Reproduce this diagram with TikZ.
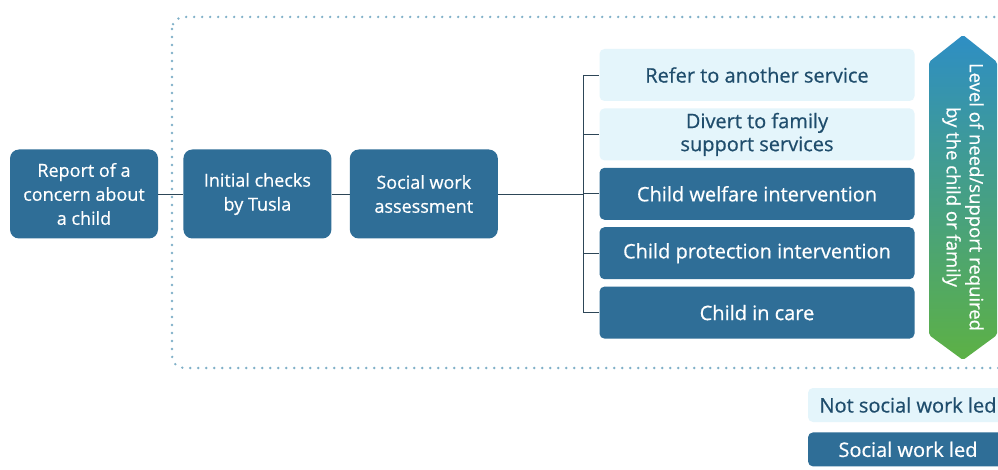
\documentclass[tikz,border=0pt]{standalone}
\usepackage{fontspec}
\setmainfont{Open Sans}[FakeBold=0.6]
\usetikzlibrary{positioning}
\definecolor{tuslaDark}{HTML}{2F6E97}
\definecolor{tuslaPale}{HTML}{E4F5FB}
\definecolor{tuslaText}{HTML}{1F4D6C}
\definecolor{dotBlue}{HTML}{7FB0C8}
\definecolor{needBlue}{HTML}{2E8EC4}
\definecolor{needGreen}{HTML}{5DB145}
\definecolor{linkGrey}{HTML}{2D4657}
\tikzset{
  stage/.style={fill=tuslaDark, text=white, rounded corners=9pt,
    minimum width=148pt, minimum height=89pt, align=center,
    font=\fontsize{18}{24}\selectfont},
  outcome/.style={rounded corners=5pt, minimum width=315pt,
    minimum height=52pt, align=center, font=\fontsize{20}{23}\selectfont},
  paleBox/.style={fill=tuslaPale, text=tuslaText},
  darkBox/.style={fill=tuslaDark, text=white},
  keyBox/.style={rounded corners=5pt, minimum width=200pt,
    minimum height=34pt, font=\fontsize{20}{22}\selectfont},
  link/.style={draw=linkGrey, line width=0.8pt},
}
\begin{document}
\begin{tikzpicture}[x=1pt, y=-1pt]
\clip (0,0) rectangle (998,470);
\fill[white] (0,0) rectangle (998,470);

% dotted frame round the social work part
\draw[dotBlue, line width=2.6pt, line cap=round, dash pattern=on 0pt off 8pt,
  rounded corners=12pt] (172,17) rectangle (1030,368);

\node[stage] (report) at (84,194) {Report of a\\concern about\\a child};
\node[stage, right=25pt of report] (checks) {Initial checks\\by Tusla};
\node[stage, right=18pt of checks] (assess) {Social work\\assessment};

\node[outcome, paleBox] (refer) at (757,75) {Refer to another service};
\node[outcome, paleBox, below=7pt of refer] (divert) {Divert to family\\support services};
\node[outcome, darkBox, below=7pt of divert] (welfare) {Child welfare intervention};
\node[outcome, darkBox, below=7pt of welfare] (protect) {Child protection intervention};
\node[outcome, darkBox, below=7pt of protect] (care) {Child in care};

\draw[link] (report) -- (checks);
\draw[link] (checks) -- (assess);
\coordinate (fork) at (583,194);
\draw[link] (assess) -- (fork);
\draw[link] (fork |- refer.west) -- (fork |- care.west);
\foreach \o in {refer,divert,welfare,protect,care}
  \draw[link] (fork |- \o.west) -- (\o.west);

% level of need arrow
\shade[top color=needBlue, bottom color=needGreen, rounded corners=2pt]
  (929,62) -- (963,35) -- (997,62) -- (997,335) -- (963,360) -- (929,335) -- cycle;
\node[rotate=-90, text=white, align=center, font=\fontsize{18.5}{23}\selectfont]
  (need) at (963,197) {Level of need/support required\\by the child or family};

% key
\node[keyBox, paleBox] (notled) at (908,405) {Not social work led};
\node[keyBox, darkBox, below=10pt of notled] (led) {Social work led};
\end{tikzpicture}
\end{document}
